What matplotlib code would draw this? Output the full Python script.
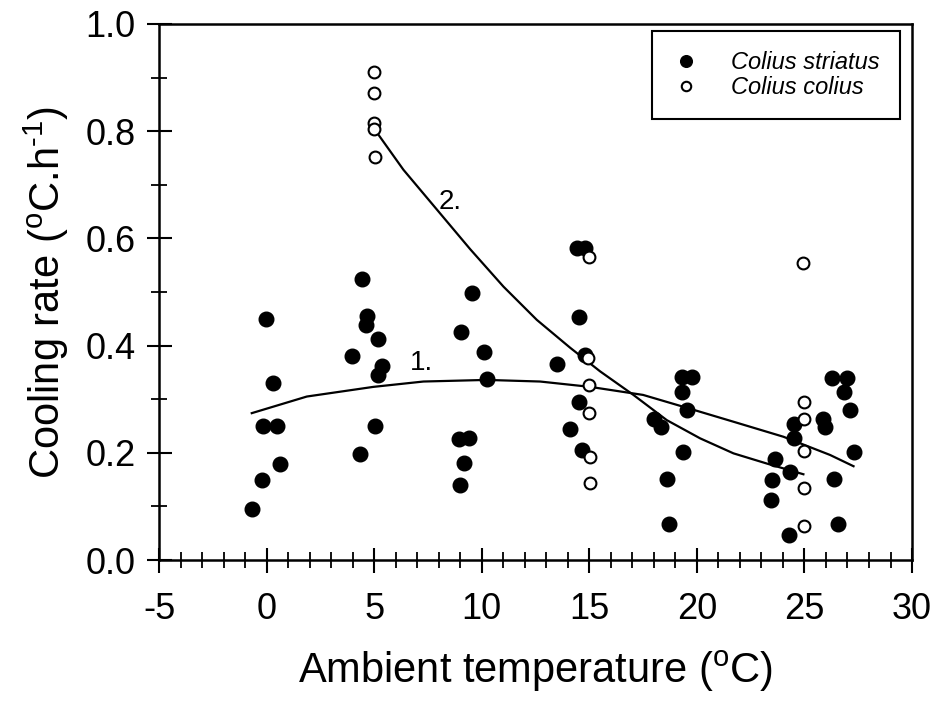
import matplotlib
matplotlib.use("Agg")
import matplotlib.pyplot as plt
from matplotlib.ticker import MultipleLocator, FormatStrFormatter

plt.rcParams['font.family'] = ['Liberation Sans', 'DejaVu Sans']
plt.rcParams['mathtext.fontset'] = 'custom'
plt.rcParams['mathtext.rm'] = 'Liberation Sans'
plt.rcParams['axes.unicode_minus'] = False

# Colius striatus (filled)
striatus_x = [-0.03, 0.31, -0.15, 0.47, 0.63, -0.21, -0.69,
              4.44, 4.68, 4.62, 5.17, 3.96, 5.38, 5.17, 5.04, 4.34,
              9.54, 9.04, 10.10, 10.23, 8.95, 9.41, 9.17, 8.99,
              14.42, 14.80, 14.54, 14.80, 13.52, 14.54, 14.11, 14.65,
              18.01, 18.32, 19.30, 19.77, 19.30, 19.53, 19.37, 18.63, 18.72,
              24.52, 24.52, 23.64, 24.33, 23.48, 23.44, 24.26,
              26.27, 26.97, 26.86, 25.86, 25.96, 27.12, 27.28, 26.35, 26.58]
striatus_y = [0.449, 0.331, 0.250, 0.250, 0.179, 0.149, 0.095,
              0.524, 0.455, 0.438, 0.412, 0.381, 0.362, 0.345, 0.250, 0.198,
              0.499, 0.426, 0.389, 0.338, 0.225, 0.228, 0.181, 0.140,
              0.582, 0.582, 0.453, 0.382, 0.365, 0.295, 0.244, 0.205,
              0.264, 0.249, 0.342, 0.341, 0.314, 0.280, 0.202, 0.151, 0.068,
              0.254, 0.227, 0.188, 0.165, 0.149, 0.112, 0.047,
              0.339, 0.339, 0.314, 0.264, 0.249, 0.279, 0.202, 0.151, 0.068]

# Colius colius (open)
colius_x = [5.01, 5.01, 5.01, 5.01, 5.04,
            15.00, 14.96, 15.00, 15.00, 15.04, 15.04,
            24.95, 24.99, 24.99, 24.99, 24.97, 24.99]
colius_y = [0.911, 0.872, 0.815, 0.804, 0.752,
            0.565, 0.376, 0.326, 0.275, 0.193, 0.143,
            0.555, 0.295, 0.264, 0.204, 0.134, 0.063]

# fitted curves
curve1_x = [-0.69, 1.87, 4.96, 7.29, 10.23, 12.71, 15.04, 17.5, 19.53, 21.70, 24.02, 26.19, 27.28]
curve1_y = [0.274, 0.305, 0.323, 0.333, 0.336, 0.333, 0.323, 0.308, 0.284, 0.258, 0.230, 0.196, 0.175]
curve2_x = [5.01, 6.36, 7.68, 9.46, 11.01, 12.56, 14.11, 15.50, 17.05, 18.60, 20.15, 21.70, 23.25, 24.95]
curve2_y = [0.804, 0.728, 0.665, 0.580, 0.510, 0.448, 0.396, 0.352, 0.308, 0.261, 0.227, 0.199, 0.180, 0.160]

fig = plt.figure(figsize=(9.36, 7.01), dpi=100)
ax = fig.add_axes([0.1699, 0.2011, 0.8045, 0.7647])

ax.plot(curve1_x, curve1_y, color='black', lw=1.6, zorder=2)
ax.plot(curve2_x, curve2_y, color='black', lw=1.6, zorder=2)
ax.plot(striatus_x, striatus_y, 'o', ms=10.5, mfc='black', mec='black',
        label='Colius striatus', zorder=3)
ax.plot(colius_x, colius_y, 'o', ms=8.5, mfc='white', mec='black', mew=1.5,
        label='Colius colius', zorder=4)

ax.text(7.21, 0.368, '1.', fontsize=20, ha='center', va='center')
ax.text(8.53, 0.668, '2.', fontsize=20, ha='center', va='center')

ax.set_xlim(-5, 30)
ax.set_ylim(0, 1.0)
ax.xaxis.set_major_locator(MultipleLocator(5))
ax.xaxis.set_minor_locator(MultipleLocator(1))
ax.yaxis.set_major_locator(MultipleLocator(0.2))
ax.yaxis.set_minor_locator(MultipleLocator(0.1))
ax.yaxis.set_major_formatter(FormatStrFormatter('%.1f'))
ax.tick_params(which='major', direction='inout', length=18, width=1.5,
               labelsize=26)
ax.tick_params(axis='x', which='major', pad=14)
ax.tick_params(axis='y', which='major', pad=8)
ax.tick_params(which='minor', direction='inout', length=11, width=1.3)
for s in ax.spines.values():
    s.set_linewidth(1.8)

ax.set_xlabel(r'Ambient temperature ($^{\mathrm{o}}$C)', fontsize=30, labelpad=16)
ax.set_ylabel(r'Cooling rate ($^{\mathrm{o}}$C.h$^{\text{-1}}$)', fontsize=30, labelpad=10)

leg = ax.legend(loc='upper right', bbox_to_anchor=(0.984, 0.987),
                borderaxespad=0, prop={'style': 'italic', 'size': 17},
                fancybox=False, edgecolor='black', framealpha=1,
                borderpad=0.85, labelspacing=0.1, handletextpad=1.3,
                markerscale=0.8, handlelength=1.2)
leg.get_frame().set_linewidth(1.5)

fig.savefig('out.png', dpi=100)
